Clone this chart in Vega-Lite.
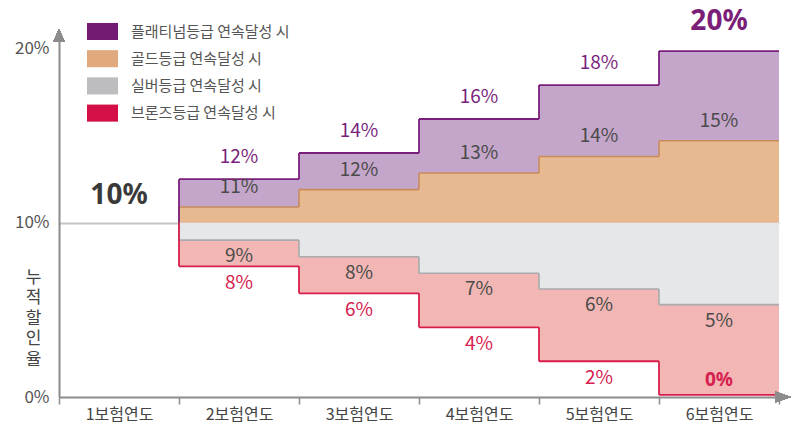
{
  "$schema": "https://vega.github.io/schema/vega-lite/v6.json",
  "width": 720,
  "height": 366,
  "autosize": "none",
  "padding": {"left": 59, "top": 31, "right": 13, "bottom": 27},
  "background": "white",
  "config": {"view": {"stroke": null}, "font": "Noto Sans CJK KR"},
  "data": {
    "values": [
      {"year": "1보험연도", "series": "플래티넘등급 연속달성 시", "level": 10, "label": "10%"},
      {"year": "1보험연도", "series": "골드등급 연속달성 시", "level": 10, "label": "10%"},
      {"year": "1보험연도", "series": "실버등급 연속달성 시", "level": 10, "label": "10%"},
      {"year": "1보험연도", "series": "브론즈등급 연속달성 시", "level": 10, "label": "10%"},
      {"year": "2보험연도", "series": "플래티넘등급 연속달성 시", "level": 12.5, "label": "12%"},
      {"year": "3보험연도", "series": "플래티넘등급 연속달성 시", "level": 14, "label": "14%"},
      {"year": "4보험연도", "series": "플래티넘등급 연속달성 시", "level": 15.95, "label": "16%"},
      {"year": "5보험연도", "series": "플래티넘등급 연속달성 시", "level": 17.9, "label": "18%"},
      {"year": "6보험연도", "series": "플래티넘등급 연속달성 시", "level": 19.85, "label": "20%"},
      {"year": "2보험연도", "series": "골드등급 연속달성 시", "level": 10.9, "label": "11%"},
      {"year": "3보험연도", "series": "골드등급 연속달성 시", "level": 11.9, "label": "12%"},
      {"year": "4보험연도", "series": "골드등급 연속달성 시", "level": 12.85, "label": "13%"},
      {"year": "5보험연도", "series": "골드등급 연속달성 시", "level": 13.8, "label": "14%"},
      {"year": "6보험연도", "series": "골드등급 연속달성 시", "level": 14.7, "label": "15%"},
      {"year": "2보험연도", "series": "실버등급 연속달성 시", "level": 9.0, "label": "9%"},
      {"year": "3보험연도", "series": "실버등급 연속달성 시", "level": 8.05, "label": "8%"},
      {"year": "4보험연도", "series": "실버등급 연속달성 시", "level": 7.1, "label": "7%"},
      {"year": "5보험연도", "series": "실버등급 연속달성 시", "level": 6.2, "label": "6%"},
      {"year": "6보험연도", "series": "실버등급 연속달성 시", "level": 5.3, "label": "5%"},
      {"year": "2보험연도", "series": "브론즈등급 연속달성 시", "level": 7.5, "label": "8%"},
      {"year": "3보험연도", "series": "브론즈등급 연속달성 시", "level": 5.95, "label": "6%"},
      {"year": "4보험연도", "series": "브론즈등급 연속달성 시", "level": 4.0, "label": "4%"},
      {"year": "5보험연도", "series": "브론즈등급 연속달성 시", "level": 2.05, "label": "2%"},
      {"year": "6보험연도", "series": "브론즈등급 연속달성 시", "level": 0.12, "label": "0%"}
    ]
  },
  "transform": [
    {"window": [{"op": "lag", "field": "level", "as": "prev"}], "groupby": ["series"], "sort": [{"field": "year", "order": "ascending"}]}
  ],
  "encoding": {
    "x": {
      "field": "year", "type": "ordinal",
      "scale": {"paddingInner": 0, "paddingOuter": 0},
      "axis": {
        "title": null, "labelAngle": 0, "domainColor": "#8c8c8c", "domainWidth": 2,
        "tickBand": "extent", "tickColor": "#8c8c8c", "tickWidth": 1.5, "tickSize": 7,
        "labelFontSize": 16, "labelColor": "#444444", "labelPadding": 2, "grid": false
      }
    }
  },
  "layer": [
    {
      "transform": [{"filter": "datum.year !== '1보험연도'"}],
      "mark": {"type": "square", "size": 1, "opacity": 1},
      "encoding": {
        "y": {
          "datum": 10, "type": "quantitative",
          "scale": {"domain": [0, 21], "nice": false},
          "axis": {
            "values": [0, 10, 20], "labelExpr": "datum.value + '%'",
            "domainColor": "#8c8c8c", "domainWidth": 2, "ticks": false,
            "labelPadding": 10, "labelFontSize": 17, "labelColor": "#555555",
            "grid": true, "gridColor": "#c4c4c4", "gridWidth": 2,
            "gridOpacity": {"condition": {"test": "datum.value === 10", "value": 1}, "value": 0},
            "title": ["누", "적", "할", "인", "율"], "titleAngle": 0, "titleX": -26, "titleY": 246,
            "titleAlign": "center", "titleBaseline": "middle", "titleFontSize": 17,
            "titleFontWeight": "normal", "titleColor": "#444444", "titleLineHeight": 20.5
          }
        },
        "color": {
          "field": "series", "type": "nominal",
          "scale": {
            "domain": ["플래티넘등급 연속달성 시", "골드등급 연속달성 시", "실버등급 연속달성 시", "브론즈등급 연속달성 시"],
            "range": ["#731a73", "#e0a97e", "#bdbdc0", "#d40f45"]
          },
          "legend": {
            "title": null, "orient": "none", "legendX": 28, "legendY": -15, "padding": 0,
            "symbolType": "M-1,-0.55L1,-0.55L1,0.55L-1,0.55Z", "symbolSize": 961, "symbolStrokeWidth": 0,
            "labelFontSize": 15, "labelColor": "#555555", "labelOffset": 13, "rowPadding": 2.2,
            "encode": {"symbols": {"update": {"opacity": {"value": 1}, "fillOpacity": {"value": 1}, "size": {"value": 961}, "strokeWidth": {"value": 0}, "stroke": {"value": "transparent"}}}}
          }
        }
      }
    },
    {
      "transform": [{"filter": "datum.year !== '1보험연도' && (datum.series === '플래티넘등급 연속달성 시' || datum.series === '브론즈등급 연속달성 시')"}],
      "mark": {"type": "rect", "strokeWidth": 0},
      "encoding": {
        "y": {"field": "level", "type": "quantitative"},
        "y2": {"datum": 10},
        "fill": {
          "field": "series", "type": "nominal", "legend": null,
          "scale": {
            "domain": ["플래티넘등급 연속달성 시", "골드등급 연속달성 시", "실버등급 연속달성 시", "브론즈등급 연속달성 시"],
            "range": ["#c3a6c9", "#e7b990", "#e6e7e8", "#f2b7b4"]
          }
        }
      }
    },
    {
      "transform": [{"filter": "datum.year !== '1보험연도' && (datum.series === '골드등급 연속달성 시' || datum.series === '실버등급 연속달성 시')"}],
      "mark": {"type": "rect", "strokeWidth": 0},
      "encoding": {
        "y": {"field": "level", "type": "quantitative"},
        "y2": {"datum": 10},
        "fill": {"field": "series", "type": "nominal", "legend": null}
      }
    },
    {
      "transform": [{"filter": "datum.year !== '1보험연도' && (datum.series === '골드등급 연속달성 시' || datum.series === '실버등급 연속달성 시')"}],
      "mark": {"type": "rect", "fillOpacity": 0, "strokeWidth": 1.6},
      "encoding": {
        "y": {"field": "level", "type": "quantitative"},
        "y2": {"field": "level"},
        "stroke": {
          "field": "series", "type": "nominal", "legend": null,
          "scale": {
            "domain": ["플래티넘등급 연속달성 시", "골드등급 연속달성 시", "실버등급 연속달성 시", "브론즈등급 연속달성 시"],
            "range": ["#7b1f7d", "#c98b5c", "#a9aaad", "#d81e4c"]
          }
        }
      }
    },
    {
      "transform": [{"filter": "datum.year !== '1보험연도' && (datum.series === '골드등급 연속달성 시' || datum.series === '실버등급 연속달성 시')"}],
      "mark": {"type": "rule", "strokeWidth": 1.6},
      "encoding": {
        "x": {"field": "year", "type": "ordinal", "bandPosition": 0},
        "y": {"field": "prev", "type": "quantitative"},
        "y2": {"field": "level"},
        "stroke": {"field": "series", "type": "nominal", "legend": null}
      }
    },
    {
      "transform": [{"filter": "datum.year !== '1보험연도' && (datum.series === '플래티넘등급 연속달성 시' || datum.series === '브론즈등급 연속달성 시')"}],
      "mark": {"type": "rect", "fillOpacity": 0, "strokeWidth": 1.8},
      "encoding": {
        "y": {"field": "level", "type": "quantitative"},
        "y2": {"field": "level"},
        "stroke": {"field": "series", "type": "nominal", "legend": null}
      }
    },
    {
      "transform": [{"filter": "datum.year !== '1보험연도' && (datum.series === '플래티넘등급 연속달성 시' || datum.series === '브론즈등급 연속달성 시')"}],
      "mark": {"type": "rule", "strokeWidth": 1.8},
      "encoding": {
        "x": {"field": "year", "type": "ordinal", "bandPosition": 0},
        "y": {"field": "prev", "type": "quantitative"},
        "y2": {"field": "level"},
        "stroke": {"field": "series", "type": "nominal", "legend": null}
      }
    },
    {
      "transform": [{"filter": "datum.series === '플래티넘등급 연속달성 시' && datum.year !== '1보험연도' && datum.year !== '6보험연도'"}],
      "mark": {"type": "text", "dy": -22, "fontSize": 19, "color": "#7b1f7d", "baseline": "middle"},
      "encoding": {"y": {"field": "level", "type": "quantitative"}, "text": {"field": "label"}}
    },
    {
      "transform": [{"filter": "datum.series === '플래티넘등급 연속달성 시' && datum.year === '6보험연도'"}],
      "mark": {"type": "text", "dy": -29, "fontSize": 28, "font": "Noto Sans", "fontWeight": "bold", "color": "#7a1e78", "baseline": "middle"},
      "encoding": {"y": {"field": "level", "type": "quantitative"}, "text": {"field": "label"}}
    },
    {
      "transform": [{"filter": "datum.series === '플래티넘등급 연속달성 시' && datum.year === '1보험연도'"}],
      "mark": {"type": "text", "dy": -27, "fontSize": 28, "font": "Noto Sans", "fontWeight": "bold", "color": "#3a3a3a", "baseline": "middle"},
      "encoding": {"y": {"field": "level", "type": "quantitative"}, "text": {"field": "label"}}
    },
    {
      "transform": [{"filter": "datum.series === '골드등급 연속달성 시' && datum.year !== '1보험연도'"}],
      "mark": {"type": "text", "dy": -20, "fontSize": 19, "color": "#4a4a4a", "baseline": "middle"},
      "encoding": {"y": {"field": "level", "type": "quantitative"}, "text": {"field": "label"}}
    },
    {
      "transform": [{"filter": "datum.series === '실버등급 연속달성 시' && datum.year !== '1보험연도'"}],
      "mark": {"type": "text", "dy": 16, "fontSize": 19, "color": "#4a4a4a", "baseline": "middle"},
      "encoding": {"y": {"field": "level", "type": "quantitative"}, "text": {"field": "label"}}
    },
    {
      "transform": [{"filter": "datum.series === '브론즈등급 연속달성 시' && datum.year !== '1보험연도' && datum.year !== '6보험연도'"}],
      "mark": {"type": "text", "dy": 17, "fontSize": 19, "color": "#d6204f", "baseline": "middle"},
      "encoding": {"y": {"field": "level", "type": "quantitative"}, "text": {"field": "label"}}
    },
    {
      "transform": [{"filter": "datum.series === '브론즈등급 연속달성 시' && datum.year === '6보험연도'"}],
      "mark": {"type": "text", "dy": -15, "fontSize": 19, "font": "Noto Sans", "fontWeight": "bold", "color": "#d6204f", "baseline": "middle"},
      "encoding": {"y": {"field": "level", "type": "quantitative"}, "text": {"field": "label"}}
    },
    {
      "mark": {"type": "point", "shape": "M-0.9,1.7L0,-0.3L0.9,1.7Z", "size": 169, "filled": true, "color": "#8c8c8c", "opacity": 1, "strokeWidth": 0},
      "encoding": {
        "x": {"datum": "1보험연도", "type": "ordinal", "bandPosition": 0},
        "y": {"datum": 21, "type": "quantitative"}
      }
    },
    {
      "mark": {"type": "point", "shape": "M-0.6,-0.85L1.85,0L-0.6,0.85Z", "size": 169, "filled": true, "color": "#8c8c8c", "opacity": 1, "strokeWidth": 0},
      "encoding": {
        "x": {"datum": "6보험연도", "type": "ordinal", "bandPosition": 1},
        "y": {"datum": 0, "type": "quantitative"}
      }
    }
  ]
}
